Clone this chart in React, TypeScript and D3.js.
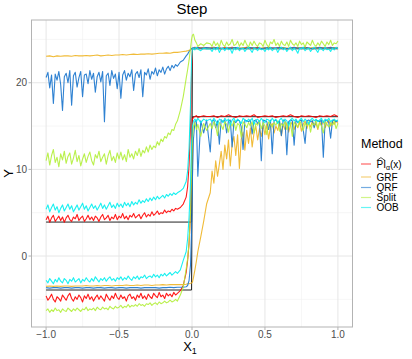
import React from "react";
import * as d3 from "d3";

// ---------- data ----------
const methods = ["PI", "GRF", "QRF", "Split", "OOB"];
const methodColors = ["#FF0000", "#EEB422", "#1874CD", "#B3EE3A", "#00EEEE"];

// Each interval bound is stored in three pieces: x in [-1, -0.1] (evenly spaced),
// the fine grid around 0 (xNear), and x in [0.125, 1] (evenly spaced).
const xNear = [-0.08, -0.06, -0.04, -0.03, -0.02, -0.01, -0.003, 0.003, 0.01, 0.02, 0.03, 0.04, 0.06, 0.08, 0.1];

// ---- PI (red)
const piLowerLeft = [
  -4.6, -5.1, -4.8, -4.4, -5.0, -5.3, -4.7, -4.9, -5.2, -4.5,
  -4.8, -5.1, -4.6, -4.3, -4.9, -5.2, -4.7, -5.0, -4.5, -4.8,
  -5.3, -4.6, -4.9, -4.4, -5.0, -4.7, -5.2, -4.8, -4.5, -5.0,
  -4.6, -4.9, -5.2, -4.4, -4.8, -5.1, -4.6, -4.9, -4.3, -4.8,
  -5.0, -4.5, -4.9, -4.7, -5.2, -4.6, -4.4, -4.9, -4.7, -5.1,
  -4.5, -4.8, -4.3, -4.9, -4.6, -5.0, -4.4, -4.7, -4.9, -4.3,
  -4.6, -4.8, -4.2, -4.7, -4.5, -4.9, -4.3, -4.6, -4.4, -4.7,
  -4.2, -4.5, -4.3,
];
const piLowerNear = [-4.0, -3.4, -1.9, -0.5, 1.5, 5.0, 11.0, 15.8, 16.0, 16.1, 16.2, 16.0, 16.1, 16.2, 16.1];
const piLowerRight = [
  16.1, 16.2, 16.0, 16.2, 16.1, 16.3, 16.1, 16.0, 16.2, 16.1,
  16.2, 16.1, 16.3, 16.0, 16.1, 16.2, 16.1, 16.2, 16.0, 16.1,
  16.2, 16.1, 16.3, 16.1, 16.0, 16.2, 16.1, 16.2, 16.1, 16.0,
  16.2, 16.1, 16.2, 16.1, 16.3, 16.1,
];
const piUpperLeft = [
  4.2, 4.6, 3.9, 4.4, 4.7, 4.0, 4.3, 4.6, 4.1, 4.5,
  3.9, 4.4, 4.7, 4.2, 4.0, 4.5, 4.3, 4.8, 4.1, 4.4,
  4.6, 4.0, 4.3, 4.7, 4.2, 4.5, 4.1, 4.6, 4.4, 4.0,
  4.5, 4.8, 4.2, 4.4, 4.7, 4.1, 4.5, 4.3, 4.8, 4.2,
  4.6, 4.4, 4.9, 4.3, 4.6, 4.2, 4.7, 4.5, 4.9, 4.4,
  4.6, 4.8, 4.3, 4.7, 5.0, 4.5, 4.8, 4.6, 5.1, 4.7,
  4.9, 5.2, 4.8, 5.0, 4.9, 5.3, 5.0, 5.2, 5.1, 5.4,
  5.2, 5.5, 5.4,
];
const piUpperNear = [5.6, 6.0, 6.8, 8.0, 10.5, 15.0, 21.0, 23.8, 24.0, 24.1, 24.0, 24.1, 24.0, 24.1, 24.0];
const piUpperRight = [
  24.0, 24.1, 24.0, 23.9, 24.1, 24.0, 24.1, 24.0, 23.9, 24.0,
  24.1, 24.0, 24.0, 24.1, 23.9, 24.0, 24.1, 24.0, 24.0, 24.1,
  24.0, 23.9, 24.0, 24.1, 24.0, 24.0, 24.1, 24.0, 23.9, 24.0,
  24.1, 24.0, 24.0, 24.1, 24.0, 24.0,
];

// ---- GRF (orange)
const grfLowerLeft = [
  -3.5, -3.45, -3.5, -3.45, -3.5, -3.45, -3.45, -3.5, -3.45, -3.45,
  -3.45, -3.4, -3.45, -3.45, -3.4, -3.45, -3.4, -3.4, -3.45, -3.4,
  -3.4, -3.4, -3.35, -3.4, -3.4, -3.35, -3.4, -3.35, -3.35, -3.4,
  -3.35, -3.35, -3.3, -3.35, -3.3, -3.3, -3.3,
];
const grfLowerNear = [-3.3, -3.3, -3.25, -3.2, -3.2, -3.15, -3.1, -3.0, -2.5, -1.6, -0.6, 0.5, 2.2, 4.0, 6.0];
const grfLowerRight = [
  7.3, 9.8, 8.4, 11.0, 9.2, 10.6, 12.1, 10.0, 12.8, 11.2,
  13.4, 10.4, 12.9, 13.8, 11.6, 14.0, 10.1, 13.5, 14.3, 12.2,
  14.5, 13.0, 14.8, 12.6, 14.2, 15.0, 13.4, 14.7, 13.8, 15.1,
  14.0, 15.2, 13.5, 14.9, 15.3, 14.2, 15.0, 14.5, 15.4, 13.9,
  15.2, 14.6, 15.4, 14.3, 15.1, 15.5, 14.6, 15.3, 14.8, 15.5,
  14.4, 15.2, 15.6, 14.7, 15.4, 14.9, 15.6, 15.0, 15.3, 14.6,
  15.5, 15.1, 15.6, 14.8, 15.4, 15.7, 15.0, 15.5, 15.2, 15.6,
  15.3,
];
const grfUpperLeft = [
  23.05, 23.1, 23.0, 23.1, 23.05, 23.1, 23.1, 23.05, 23.15, 23.1,
  23.1, 23.15, 23.1, 23.15, 23.2, 23.1, 23.15, 23.2, 23.15, 23.2,
  23.2, 23.25, 23.2, 23.25, 23.3, 23.25, 23.3, 23.3, 23.35, 23.3,
  23.35, 23.4, 23.4, 23.45, 23.4, 23.5, 23.5,
];
const grfUpperNear = [23.55, 23.6, 23.65, 23.7, 23.75, 23.8, 23.9, 24.0, 24.0, 24.05, 24.0, 23.95, 24.0, 24.05, 24.0];
const grfUpperRight = [
  24.0, 24.05, 24.0, 23.95, 24.0, 24.05, 24.0, 24.0, 23.95, 24.05,
  24.0, 24.0, 24.05, 23.95, 24.0, 24.05, 24.0, 24.0, 23.95, 24.0,
  24.05, 24.0, 23.95, 24.0, 24.05, 24.0, 24.0, 23.95, 24.05, 24.0,
  24.0, 24.05, 23.95, 24.0, 24.05, 24.0,
];

// ---- QRF (blue)
const qrfLowerLeft = [
  -3.65, -3.7, -3.65, -3.65, -3.7, -3.65, -3.65, -3.7, -3.65, -3.65,
  -3.7, -3.65, -3.65, -3.7, -3.65, -3.65, -3.7, -3.65, -3.65, -3.7,
  -3.65, -3.65, -3.7, -3.65, -3.65, -3.65, -3.7, -3.65, -3.65, -3.65,
  -3.65, -3.7, -3.65, -3.65, -3.6, -3.65, -3.6,
];
const qrfLowerNear = [-3.6, -3.6, -3.55, -3.4, -2.8, -1.0, 3.0, 9.0, 13.5, 15.5, 15.7, 9.2, 15.6, 14.2, 15.7];
const qrfLowerRight = [
  12.0, 15.6, 15.7, 14.8, 15.6, 12.9, 15.7, 15.5, 15.7, 14.2,
  15.6, 15.7, 12.6, 15.6, 15.4, 15.7, 15.6, 14.9, 12.3, 15.7,
  15.6, 15.5, 15.7, 14.1, 15.6, 15.7, 15.3, 15.6, 11.0, 15.7,
  15.6, 15.5, 14.6, 15.7, 11.8, 15.6, 15.7, 15.4, 15.6, 13.9,
  15.7, 15.6, 11.7, 15.5, 15.7, 15.6, 12.8, 15.7, 15.4, 15.6,
  15.7, 14.5, 13.0, 15.6, 15.7, 15.5, 15.6, 14.8, 15.7, 15.6,
  15.5, 15.7, 11.4, 15.6, 15.7, 15.4, 13.6, 15.6, 15.7, 15.5,
  15.6,
];
const qrfUpperLeft = [
  20.6, 21.2, 19.4, 20.9, 17.6, 21.0, 20.3, 21.3, 19.8, 16.8,
  20.7, 21.1, 20.0, 21.4, 17.4, 20.8, 21.2, 19.5, 20.6, 21.3,
  18.4, 20.9, 21.0, 19.9, 21.4, 20.4, 21.1, 18.9, 20.7, 21.2,
  20.1, 21.3, 15.5, 20.8, 21.1, 19.7, 21.4, 20.5, 21.0, 19.3,
  21.2, 18.2, 20.9, 21.4, 20.3, 21.1, 20.7, 21.5, 19.1, 21.0,
  21.3, 20.6, 21.5, 18.4, 21.2, 20.9, 21.6, 20.4, 21.3, 21.0,
  21.7, 20.8, 21.5, 21.2, 21.8, 21.0, 21.6, 21.9, 21.4, 22.0,
  21.7, 22.1, 21.9,
];
const qrfUpperNear = [22.4, 22.6, 23.1, 23.3, 23.6, 23.8, 23.95, 24.0, 24.05, 24.0, 24.0, 24.05, 24.0, 24.0, 24.05];
const qrfUpperRight = [
  24.0, 24.0, 24.05, 24.0, 23.95, 24.0, 24.0, 24.05, 24.0, 23.95,
  24.0, 24.05, 24.0, 24.0, 23.95, 24.0, 24.05, 24.0, 24.0, 24.05,
  24.0, 23.95, 24.0, 24.05, 24.0, 24.0, 24.05, 24.0, 23.95, 24.0,
  24.05, 24.0, 24.0, 24.05, 24.0, 24.0,
];

// ---- Split (green)
const splitLowerLeft = [
  -6.3, -6.1, -6.5, -6.2, -6.4, -6.0, -6.3, -6.2, -6.5, -6.1,
  -6.3, -6.4, -6.0, -6.2, -6.4, -6.1, -6.3, -6.0, -6.2, -6.4,
  -6.1, -6.2, -5.9, -6.3, -6.1, -6.2, -6.0, -6.3, -5.9, -6.1,
  -6.2, -5.9, -6.1, -6.0, -6.2, -5.8, -6.0, -6.1, -5.8, -6.0,
  -5.9, -5.7, -6.0, -5.8, -5.9, -5.6, -5.9, -5.7, -5.8, -5.6,
  -5.8, -5.5, -5.7, -5.6, -5.8, -5.5, -5.6, -5.4, -5.7, -5.5,
  -5.4, -5.6, -5.3, -5.5, -5.4, -5.2, -5.4, -5.3, -5.1, -5.3,
  -5.2, -5.0, -5.2,
];
const splitLowerNear = [-4.5, -3.6, -1.5, -0.3, 1.5, 5.0, 10.0, 13.5, 15.0, 15.4, 14.6, 15.2, 13.8, 15.3, 14.5];
const splitLowerRight = [
  15.3, 14.7, 15.5, 15.0, 13.9, 15.4, 15.1, 14.6, 15.5, 15.2,
  14.3, 15.4, 15.0, 15.6, 14.5, 15.3, 15.1, 13.7, 15.5, 15.2,
  14.8, 15.4, 15.0, 15.5, 14.2, 15.3, 15.1, 15.6, 14.7, 15.4,
  15.0, 14.0, 15.5, 15.2, 14.9, 15.4, 15.1, 15.6, 14.4, 15.3,
  15.0, 15.5, 14.6, 15.2, 15.4, 13.8, 15.5, 15.1, 14.9, 15.6,
  15.2, 14.5, 15.4, 15.0, 15.5, 14.3, 15.3, 15.1, 15.6, 14.8,
  15.4, 15.0, 14.2, 15.5, 15.2, 14.9, 15.4, 15.1, 15.6, 14.7,
  15.3,
];
const splitUpperLeft = [
  11.0, 11.9, 10.5, 11.6, 12.3, 10.8, 11.4, 10.3, 11.8, 11.1,
  12.1, 10.7, 11.5, 11.9, 10.6, 11.3, 12.2, 10.9, 11.6, 10.4,
  11.2, 11.8, 10.8, 11.5, 12.0, 11.0, 10.5, 11.7, 11.3, 12.1,
  10.9, 11.4, 11.8, 10.6, 11.6, 12.2, 11.0, 11.5, 10.8, 11.9,
  11.2, 12.0, 11.1, 11.7, 10.9, 12.3, 11.4, 11.8, 11.2, 12.1,
  11.6, 12.4, 11.5, 12.2, 11.9, 12.6, 12.0, 12.8, 12.3, 12.7,
  12.5, 13.2, 12.8, 13.5, 13.2, 13.8, 13.6, 14.2, 14.0, 14.6,
  14.5, 15.2, 15.6,
];
const splitUpperNear = [16.8, 18.4, 20.5, 21.5, 22.6, 24.0, 25.0, 25.5, 25.6, 24.9, 24.6, 24.2, 24.5, 24.3, 24.6];
const splitUpperRight = [
  24.5, 24.2, 24.8, 24.3, 24.6, 24.1, 24.9, 24.4, 24.2, 24.7,
  24.3, 24.5, 25.0, 24.3, 24.4, 24.8, 24.2, 24.6, 24.3, 24.9,
  24.4, 24.1, 24.7, 24.3, 24.8, 24.4, 24.2, 24.6, 24.5, 24.2,
  24.9, 24.4, 24.1, 24.7, 24.5, 25.0, 24.3, 24.6, 24.2, 24.8,
  24.4, 24.3, 24.7, 24.2, 24.9, 24.5, 24.3, 24.6, 24.2, 24.8,
  24.4, 24.6, 24.1, 24.7, 24.5, 24.3, 24.9, 24.4, 24.2, 24.6,
  24.3, 24.8, 24.5, 24.2, 24.7, 24.4, 24.9, 24.3, 24.6, 24.5,
  24.8,
];

// ---- OOB (cyan)
const oobLowerLeft = [
  -2.8, -3.1, -2.6, -2.9, -3.2, -2.7, -3.0, -2.5, -2.9, -3.1,
  -2.6, -2.8, -3.2, -2.7, -2.9, -2.5, -3.0, -2.8, -2.6, -3.1,
  -2.7, -2.9, -2.5, -2.8, -3.0, -2.6, -2.9, -2.4, -2.7, -3.0,
  -2.6, -2.8, -2.5, -2.9, -2.6, -2.4, -2.8, -2.6, -2.9, -2.5,
  -2.7, -2.4, -2.8, -2.5, -2.7, -2.3, -2.6, -2.8, -2.4, -2.6,
  -2.3, -2.7, -2.4, -2.5, -2.2, -2.6, -2.4, -2.3, -2.5, -2.1,
  -2.4, -2.2, -2.5, -2.1, -2.3, -2.0, -2.3, -2.1, -1.9, -2.2,
  -2.0, -1.8, -2.0,
];
const oobLowerNear = [-1.6, -0.5, 0.5, 2.0, 4.5, 8.5, 13.0, 15.0, 15.6, 15.8, 15.5, 15.9, 15.4, 15.8, 15.6];
const oobLowerRight = [
  15.8, 15.5, 15.9, 15.6, 15.2, 15.8, 15.7, 15.4, 15.9, 15.6,
  15.8, 15.1, 15.7, 15.9, 15.5, 15.8, 15.6, 15.3, 15.9, 15.7,
  15.5, 15.8, 15.6, 15.9, 15.2, 15.7, 15.8, 15.5, 15.9, 15.6,
  15.4, 15.8, 15.7, 15.5, 15.9, 15.6, 15.8, 15.3, 15.7, 15.9,
  15.5, 15.8, 15.6, 15.0, 15.7, 15.9, 15.6, 15.8, 15.4, 15.7,
  15.9, 15.5, 15.8, 15.6, 15.2, 15.7, 15.9, 15.6, 15.8, 15.5,
  15.7, 15.9, 15.4, 15.8, 15.6, 15.9, 15.5, 15.7, 15.8, 15.6,
  15.7,
];
const oobUpperLeft = [
  5.4, 5.9, 5.1, 5.6, 6.0, 5.3, 5.7, 5.0, 5.5, 5.9,
  5.2, 5.6, 6.0, 5.4, 5.8, 5.1, 5.5, 5.9, 5.3, 5.7,
  6.1, 5.4, 5.8, 5.2, 5.6, 6.0, 5.5, 5.8, 5.3, 5.7,
  6.1, 5.5, 5.9, 5.4, 5.8, 6.2, 5.6, 5.9, 5.5, 6.1,
  5.7, 6.0, 5.6, 6.2, 5.8, 6.1, 5.7, 6.3, 5.9, 6.2,
  6.0, 6.5, 6.1, 6.4, 6.2, 6.6, 6.3, 6.7, 6.4, 6.8,
  6.5, 6.9, 6.6, 6.8, 7.0, 6.7, 7.1, 6.9, 7.2, 7.0,
  7.3, 7.1, 7.3,
];
const oobUpperNear = [7.5, 7.8, 8.6, 9.8, 12.5, 17.5, 22.5, 23.8, 24.0, 23.8, 24.1, 23.9, 23.7, 24.0, 23.9];
const oobUpperRight = [
  23.9, 23.6, 24.0, 23.8, 24.1, 23.5, 23.9, 24.0, 23.7, 24.1,
  23.8, 23.9, 23.4, 24.0, 23.8, 24.1, 23.7, 23.9, 24.0, 23.6,
  23.9, 24.1, 23.8, 23.5, 24.0, 23.9, 23.7, 24.1, 23.8, 23.9,
  23.6, 24.0, 23.8, 24.1, 23.7, 23.9, 24.0, 23.5, 23.9, 24.1,
  23.8, 24.0, 23.6, 23.9, 24.1, 23.7, 24.0, 23.8, 23.4, 24.0,
  23.9, 24.1, 23.7, 23.9, 24.0, 23.6, 23.9, 24.1, 23.8, 23.5,
  24.0, 23.9, 23.7, 24.1, 23.8, 23.9, 23.6, 24.0, 23.8, 24.1,
  23.9,
];

const seriesLower = [
  [piLowerLeft, piLowerNear, piLowerRight],
  [grfLowerLeft, grfLowerNear, grfLowerRight],
  [qrfLowerLeft, qrfLowerNear, qrfLowerRight],
  [splitLowerLeft, splitLowerNear, splitLowerRight],
  [oobLowerLeft, oobLowerNear, oobLowerRight],
];
const seriesUpper = [
  [piUpperLeft, piUpperNear, piUpperRight],
  [grfUpperLeft, grfUpperNear, grfUpperRight],
  [qrfUpperLeft, qrfUpperNear, qrfUpperRight],
  [splitUpperLeft, splitUpperNear, splitUpperRight],
  [oobUpperLeft, oobUpperNear, oobUpperRight],
];

// true interval (step function)
const truthX = [-1, -0.003, 0.003, 1];
const truthLower = [-3.92, -3.92, 16.08, 16.08];
const truthUpper = [3.92, 3.92, 23.92, 23.92];

const xTicks = [-1, -0.5, 0, 0.5, 1];
const xTickLabels = ["\u22121.0", "\u22120.5", "0.0", "0.5", "1.0"];
const xMinor = [-0.75, -0.25, 0.25, 0.75];
const yTicks = [0, 10, 20];
const yTickLabels = ["0", "10", "20"];
const yMinor = [-5, 5, 15, 25];

const FONT = "'Liberation Sans', Arial, Helvetica, sans-serif";

function toPoints(parts: number[][]): [number, number][] {
  const [left, near, right] = parts;
  const pts: [number, number][] = [];
  const lx = d3.scaleLinear().domain([0, left.length - 1]).range([-1, -0.1]);
  left.forEach((v, i) => pts.push([lx(i), v]));
  near.forEach((v, i) => pts.push([xNear[i], v]));
  const rx = d3.scaleLinear().domain([0, right.length - 1]).range([0.125, 1]);
  right.forEach((v, i) => pts.push([rx(i), v]));
  return pts;
}

export default function App() {
  const W = 412, H = 359;
  const pL = 31.5, pR = 352.5, pT = 20, pB = 327;
  const x = d3.scaleLinear().domain([-1.1, 1.1]).range([pL, pR]);
  const y = d3.scaleLinear().domain([-8.19, 27.24]).range([pB, pT]);

  const line = d3.line<[number, number]>().x((d) => x(d[0])).y((d) => y(d[1]));
  const truthPath = (ys: number[]) => line(truthX.map((v, i) => [v, ys[i]] as [number, number])) || "";

  const legendY = [164, 177, 187.5, 197.5, 207.5];

  return (
    <svg width={W} height={H} style={{ position: "absolute", left: 0, top: 0, background: "#fff" }} fontFamily={FONT}>
      <rect x={0} y={0} width={W} height={H} fill="#fff" />
      <defs>
        <clipPath id="panel">
          <rect x={pL} y={pT} width={pR - pL} height={pB - pT} />
        </clipPath>
      </defs>
      {/* grid */}
      {xMinor.map((t) => (
        <line key={"xm" + t} x1={x(t)} x2={x(t)} y1={pT} y2={pB} stroke="#F0F0F0" strokeWidth={0.6} />
      ))}
      {yMinor.map((t) => (
        <line key={"ym" + t} x1={pL} x2={pR} y1={y(t)} y2={y(t)} stroke="#F0F0F0" strokeWidth={0.6} />
      ))}
      {xTicks.map((t) => (
        <line key={"xg" + t} x1={x(t)} x2={x(t)} y1={pT} y2={pB} stroke="#E6E6E6" strokeWidth={1} />
      ))}
      {yTicks.map((t) => (
        <line key={"yg" + t} x1={pL} x2={pR} y1={y(t)} y2={y(t)} stroke="#E6E6E6" strokeWidth={1} />
      ))}
      <g clipPath="url(#panel)">
        <path d={truthPath(truthLower)} fill="none" stroke="#222" strokeWidth={1} />
        <path d={truthPath(truthUpper)} fill="none" stroke="#222" strokeWidth={1} />
        {methods.map((m, k) => (
          <g key={m}>
            <path d={line(toPoints(seriesLower[k])) || ""} fill="none" stroke={methodColors[k]} strokeWidth={1.1} strokeOpacity={0.9} strokeLinejoin="round" />
            <path d={line(toPoints(seriesUpper[k])) || ""} fill="none" stroke={methodColors[k]} strokeWidth={1.1} strokeOpacity={0.9} strokeLinejoin="round" />
          </g>
        ))}
      </g>
      {/* panel border */}
      <rect x={pL} y={pT} width={pR - pL} height={pB - pT} fill="none" stroke="#B3B3B3" strokeWidth={1} />
      {/* x axis */}
      {xTicks.map((t, i) => (
        <g key={"xt" + t}>
          <line x1={x(t)} x2={x(t)} y1={pB} y2={pB + 3} stroke="#B3B3B3" strokeWidth={1} />
          <text x={x(t)} y={pB + 11} textAnchor="middle" fontSize={10} fill="#4D4D4D">
            {xTickLabels[i]}
          </text>
        </g>
      ))}
      {yTicks.map((t, i) => (
        <g key={"yt" + t}>
          <line x1={pL - 3} x2={pL} y1={y(t)} y2={y(t)} stroke="#B3B3B3" strokeWidth={1} />
          <text x={pL - 4.5} y={y(t) + 3.5} textAnchor="end" fontSize={10} fill="#4D4D4D">
            {yTickLabels[i]}
          </text>
        </g>
      ))}
      {/* titles */}
      <text x={(pL + pR) / 2} y={14} textAnchor="middle" fontSize={15} fill="#000">
        Step
      </text>
      <text x={(pL + pR) / 2 - 2} y={351} textAnchor="middle" fontSize={13} fill="#000">
        X<tspan fontSize={9} dy={3}>1</tspan>
      </text>
      <text transform={`translate(12.5, ${(pT + pB) / 2}) rotate(-90)`} textAnchor="middle" fontSize={13} fill="#000">
        Y
      </text>
      {/* legend */}
      <text x={361} y={147.5} fontSize={12.5} fill="#000">
        Method
      </text>
      {methods.map((m, k) => (
        <line key={"lk" + m} x1={361} x2={371} y1={legendY[k]} y2={legendY[k]} stroke={methodColors[k]} strokeWidth={1.2} strokeOpacity={0.6} />
      ))}
      <path d={`M376.8,160.5 L380.9,157.6 L385,160.5`} fill="none" stroke="#000" strokeWidth={0.7} />
      <text x={376.5} y={legendY[0] + 4} fontSize={10} fill="#000">
        PI<tspan fontSize={7} dy={2}>α</tspan><tspan dy={-2}>(x)</tspan>
      </text>
      {methods.slice(1).map((m, k) => (
        <text key={"lt" + m} x={376.5} y={legendY[k + 1] + 3.6} fontSize={10} fill="#000">
          {m}
        </text>
      ))}
    </svg>
  );
}
